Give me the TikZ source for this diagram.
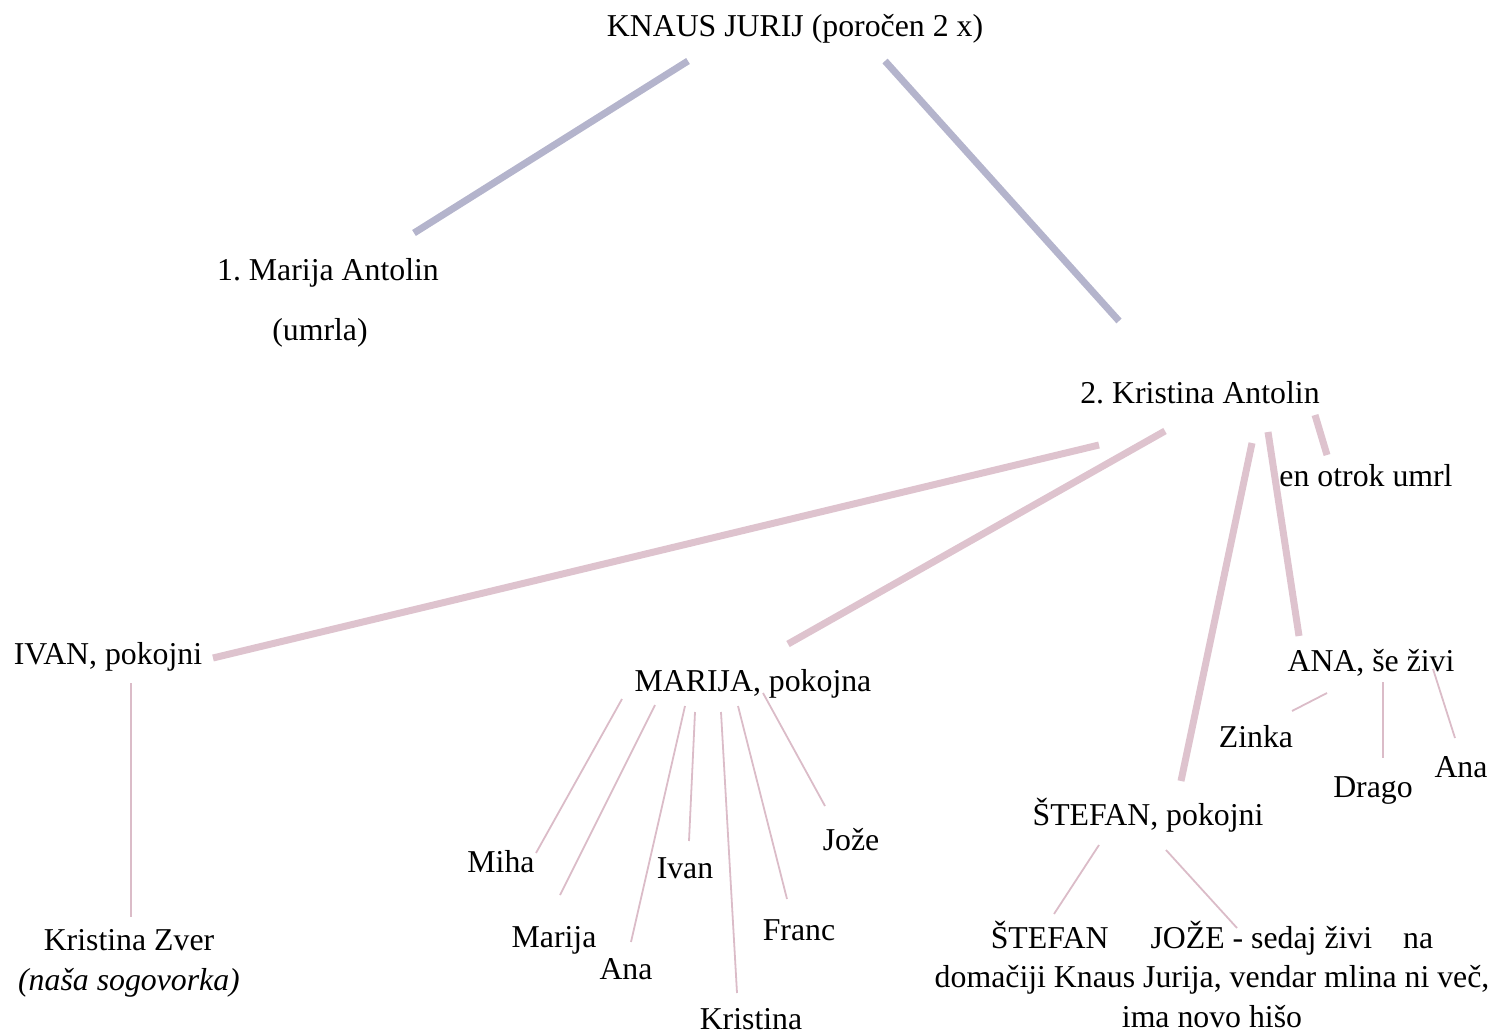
\documentclass[tikz,border=0pt]{standalone}
\usepackage{fontspec}
\setmainfont{Liberation Serif}
\frenchspacing
\definecolor{bluegray}{HTML}{B4B4CC}
\definecolor{rose}{HTML}{DEC3CE}
\definecolor{rosethin}{HTML}{DBBCC8}
\begin{document}
\begin{tikzpicture}[x=1pt,y=-1pt,
  every node/.style={inner sep=0pt,outer sep=0pt,anchor=base,font=\fontsize{31.8}{39.5}\selectfont},
  trunk/.style={draw=bluegray,line width=7pt},
  branch/.style={draw=rose,line width=7pt},
  twig/.style={draw=rosethin,line width=1.8pt}]
\useasboundingbox (0,0) rectangle (1494,1032);
% people
\node (jurij) at (795,37) {KNAUS JURIJ (poročen 2 x)};
\node (marija1) at (328,281) {1. Marija Antolin};
\node (umrla) at (320,341) {(umrla)};
\node (kristina2) at (1200,403) {2. Kristina Antolin};
\node (otrok) at (1366,486) {en otrok umrl};
\node (ivan) at (108,664) {IVAN, pokojni};
\node (marija) at (753,691) {MARIJA, pokojna};
\node (ana) at (1371,671) {ANA, še živi};
\node (zinka) at (1256,747) {Zinka};
\node (drago) at (1373,797) {Drago};
\node (anar) at (1461,777) {Ana};
\node (stefan) at (1148,825) {ŠTEFAN, pokojni};
\node[align=center] (joze) at (1212,1027) {ŠTEFAN\hspace{42pt}JOŽE - sedaj živi\hspace{31pt}na\\domačiji Knaus Jurija, vendar mlina ni več,\\ima novo hišo};
\node (miha) at (501,872) {Miha};
\node (marijac) at (554,947) {Marija};
\node (anac) at (626,979) {Ana};
\node (ivanc) at (685,878) {Ivan};
\node (kristinac) at (751,1029) {Kristina};
\node (franc) at (799,940) {Franc};
\node (jozec) at (851,850) {Jože};
\node[align=center] (zver) at (129,990) {Kristina Zver\\\textit{(naša sogovorka)}};
% connector end points
\coordinate (j1) at (688,61);   \coordinate (m1) at (414,233);
\coordinate (j2) at (885,61);   \coordinate (k2) at (1119,321);
\coordinate (k2a) at (1099,445); \coordinate (iv) at (213,658);
\coordinate (k2b) at (1165,431); \coordinate (ma) at (788,644);
\coordinate (k2c) at (1252,443); \coordinate (st) at (1181,781);
\coordinate (k2d) at (1268,432); \coordinate (an) at (1299,636);
\coordinate (k2e) at (1315,415); \coordinate (ot) at (1327,455);
\coordinate (iv1) at (131,683); \coordinate (zv) at (131,917);
\coordinate (ma1) at (622,699); \coordinate (mi) at (536,853);
\coordinate (ma2) at (655,705); \coordinate (mr) at (560,895);
\coordinate (ma3) at (685,706); \coordinate (ac) at (631,942);
\coordinate (ma4) at (695,712); \coordinate (ic) at (689,841);
\coordinate (ma5) at (721,712); \coordinate (kc) at (737,993);
\coordinate (ma6) at (738,706); \coordinate (fc) at (787,899);
\coordinate (ma7) at (763,693); \coordinate (jc) at (825,806);
\coordinate (an1) at (1327,693); \coordinate (zi) at (1292,711);
\coordinate (an2) at (1383,682); \coordinate (dr) at (1383,758);
\coordinate (an3) at (1433,669); \coordinate (ar) at (1455,738);
\coordinate (st1) at (1099,845); \coordinate (sc) at (1054,914);
\coordinate (st2) at (1166,850); \coordinate (jo) at (1237,928);
% connectors
\draw[trunk] (j1) -- (m1);
\draw[trunk] (j2) -- (k2);
\draw[branch] (k2a) -- (iv);
\draw[branch] (k2b) -- (ma);
\draw[branch] (k2c) -- (st);
\draw[branch] (k2d) -- (an);
\draw[branch] (k2e) -- (ot);
\draw[twig] (iv1) -- (zv);
\draw[twig] (ma1) -- (mi);
\draw[twig] (ma2) -- (mr);
\draw[twig] (ma3) -- (ac);
\draw[twig] (ma4) -- (ic);
\draw[twig] (ma5) -- (kc);
\draw[twig] (ma6) -- (fc);
\draw[twig] (ma7) -- (jc);
\draw[twig] (an1) -- (zi);
\draw[twig] (an2) -- (dr);
\draw[twig] (an3) -- (ar);
\draw[twig] (st1) -- (sc);
\draw[twig] (st2) -- (jo);
\end{tikzpicture}
\end{document}
